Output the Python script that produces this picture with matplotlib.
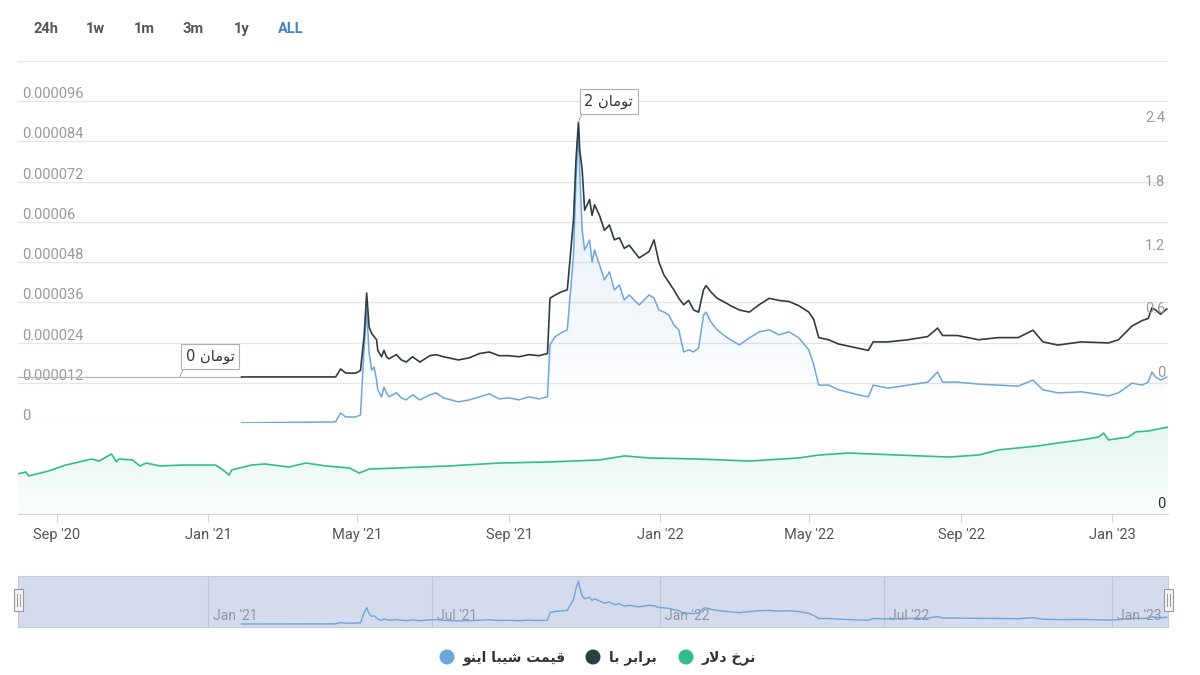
import numpy as np
import pandas as pd
import matplotlib
matplotlib.use('Agg')
import matplotlib.pyplot as plt
import matplotlib.dates as mdates
import matplotlib.transforms as mtransforms
from matplotlib.patches import Rectangle, Circle

# ---- data ----
# shiba inu price (USD, in millionths) and its toman equivalent, same dates
shib_dates = ['2021-01-28', '2021-04-12', '2021-04-14', '2021-04-18', '2021-04-22', '2021-04-30',
              '2021-05-04', '2021-05-07', '2021-05-09', '2021-05-11', '2021-05-13', '2021-05-15',
              '2021-05-17', '2021-05-18', '2021-05-21', '2021-05-23', '2021-05-25', '2021-05-27',
              '2021-06-02', '2021-06-06', '2021-06-10', '2021-06-15', '2021-06-21', '2021-06-29',
              '2021-07-04', '2021-07-10', '2021-07-22', '2021-07-31', '2021-08-08', '2021-08-16',
              '2021-08-24', '2021-09-01', '2021-09-09', '2021-09-17', '2021-09-25', '2021-10-02',
              '2021-10-04', '2021-10-08', '2021-10-13', '2021-10-18', '2021-10-20', '2021-10-23',
              '2021-10-25', '2021-10-27', '2021-10-28', '2021-10-30', '2021-11-01', '2021-11-05',
              '2021-11-07', '2021-11-09', '2021-11-13', '2021-11-17', '2021-11-21', '2021-11-25',
              '2021-11-29', '2021-12-03', '2021-12-07', '2021-12-15', '2021-12-23', '2021-12-27',
              '2021-12-31', '2022-01-04', '2022-01-08', '2022-01-12', '2022-01-16', '2022-01-20',
              '2022-01-24', '2022-01-28', '2022-02-01', '2022-02-05', '2022-02-07', '2022-02-11',
              '2022-02-16', '2022-02-21', '2022-02-27', '2022-03-06', '2022-03-14', '2022-03-22',
              '2022-03-30', '2022-04-07', '2022-04-15', '2022-04-23', '2022-05-01', '2022-05-05',
              '2022-05-09', '2022-05-17', '2022-05-25', '2022-06-10', '2022-06-18', '2022-06-22',
              '2022-07-04', '2022-07-20', '2022-08-05', '2022-08-13', '2022-08-17', '2022-08-29',
              '2022-09-15', '2022-10-01', '2022-10-17', '2022-10-29', '2022-11-06', '2022-11-18',
              '2022-12-07', '2022-12-29', '2023-01-06', '2023-01-17', '2023-01-25', '2023-01-30',
              '2023-02-02', '2023-02-05', '2023-02-09', '2023-02-14']
shib_usd_e6 = [0.05, 0.3, 0.4, 3.0, 1.8, 1.8,
               2.4, 22.7, 33.7, 20.9, 15.8, 16.7,
               12.8, 9.9, 7.8, 10.7, 9.0, 7.8,
               9.0, 7.5, 6.9, 8.4, 6.9, 8.4,
               9.0, 7.5, 6.3, 6.9, 7.8, 8.7,
               7.2, 7.5, 6.9, 7.8, 7.2, 7.8,
               23.3, 25.7, 26.9, 27.8, 36.7, 50.1,
               72.5, 88.0, 75.5, 57.6, 51.6, 54.6,
               48.1, 51.6, 47.2, 42.7, 45.1, 39.7,
               41.2, 36.7, 38.2, 35.2, 38.2, 37.3,
               33.7, 33.1, 32.2, 29.3, 27.8, 21.2,
               21.8, 21.2, 22.4, 32.2, 33.1, 30.1,
               27.8, 26.3, 24.8, 23.3, 25.4, 27.2,
               27.8, 26.3, 27.2, 25.4, 21.8, 17.3,
               11.3, 11.3, 9.9, 8.4, 7.8, 11.3,
               10.4, 11.3, 12.2, 15.2, 12.2, 12.2,
               11.6, 11.3, 11.0, 12.8, 9.9, 9.0,
               9.3, 8.1, 9.0, 11.9, 11.3, 12.2,
               15.2, 13.7, 12.8, 13.7]
shib_toman = [0.01, 0.01, 0.01, 0.085, 0.047, 0.045,
              0.07, 0.40, 0.80, 0.48, 0.42, 0.39,
              0.36, 0.26, 0.20, 0.26, 0.20, 0.18,
              0.22, 0.17, 0.15, 0.20, 0.15, 0.21,
              0.22, 0.20, 0.17, 0.19, 0.23, 0.245,
              0.21, 0.21, 0.20, 0.22, 0.21, 0.23,
              0.75, 0.78, 0.81, 0.83, 1.09, 1.49,
              2.05, 2.41, 2.15, 1.96, 1.58, 1.68,
              1.53, 1.63, 1.53, 1.39, 1.44, 1.30,
              1.32, 1.22, 1.25, 1.13, 1.19, 1.30,
              1.09, 0.97, 0.90, 0.83, 0.75, 0.69,
              0.73, 0.64, 0.62, 0.83, 0.87, 0.81,
              0.75, 0.72, 0.68, 0.64, 0.62, 0.69,
              0.75, 0.73, 0.72, 0.68, 0.62, 0.55,
              0.38, 0.36, 0.32, 0.28, 0.26, 0.34,
              0.34, 0.36, 0.39, 0.47, 0.40, 0.40,
              0.36, 0.38, 0.38, 0.45, 0.34, 0.31,
              0.34, 0.33, 0.36, 0.49, 0.54, 0.56,
              0.66, 0.64, 0.60, 0.65]

# dollar rate (toman)
usd_dates = ['2020-07-31', '2020-08-07', '2020-08-09', '2020-08-25', '2020-09-08', '2020-09-29',
             '2020-10-05', '2020-10-15', '2020-10-19', '2020-10-21', '2020-11-01', '2020-11-07',
             '2020-11-12', '2020-11-23', '2020-12-11', '2020-12-25', '2021-01-07', '2021-01-12',
             '2021-01-18', '2021-01-20', '2021-02-05', '2021-02-16', '2021-03-07', '2021-03-21',
             '2021-04-06', '2021-04-25', '2021-05-03', '2021-05-11', '2021-06-04', '2021-07-14',
             '2021-08-24', '2021-10-03', '2021-11-13', '2021-12-03', '2021-12-23', '2022-02-01',
             '2022-03-14', '2022-04-23', '2022-05-09', '2022-06-02', '2022-07-12', '2022-08-22',
             '2022-09-15', '2022-10-01', '2022-11-02', '2022-11-18', '2022-12-07', '2022-12-21',
             '2022-12-25', '2022-12-29', '2023-01-14', '2023-01-20', '2023-01-30', '2023-02-15']
usd_rate = [22000, 23100, 20900, 23600, 26900, 30200,
            29100, 33000, 28600, 30200, 29700, 26400,
            28000, 26400, 26900, 26900, 26900, 24700,
            21400, 24200, 26900, 27500, 25800, 28000,
            26400, 25300, 22500, 24700, 25300, 26400,
            28000, 28600, 29700, 31900, 30800, 30200,
            29100, 30800, 32400, 33500, 32400, 31300,
            32400, 35200, 37400, 39000, 40700, 42300,
            44500, 40700, 42300, 45100, 45600, 47800]

main_ticks = ['2020-09-01', '2021-01-01', '2021-05-01', '2021-09-01',
              '2022-01-01', '2022-05-01', '2022-09-01', '2023-01-01']
nav_ticks = ['2021-01-01', '2021-07-01', '2022-01-01', '2022-07-01', '2023-01-01']
price_levels = [0, 0.000012, 0.000024, 0.000036, 0.000048, 0.00006, 0.000072, 0.000084, 0.000096, 0.000108]
toman_levels = [0, 0.6, 1.2, 1.8, 2.4]
flag_dates = ['2020-12-09', '2021-10-27']
flag_values = [0.01, 2.41]
flag_labels = ['تومان 0', 'تومان 2']
legend_labels = ['قیمت شیبا اینو', 'برابر با', 'نرخ دلار']
buttons = ['24h', '1w', '1m', '3m', '1y', 'ALL']

# ---- tiny arabic-script shaper (matplotlib has no bidi / joining) ----
FORMS = {  # isolated, final, initial, medial
    'ا': (0xFE8D, 0xFE8E, None, None), 'ب': (0xFE8F, 0xFE90, 0xFE91, 0xFE92),
    'ت': (0xFE95, 0xFE96, 0xFE97, 0xFE98), 'خ': (0xFEA5, 0xFEA6, 0xFEA7, 0xFEA8),
    'د': (0xFEA9, 0xFEAA, None, None), 'ر': (0xFEAD, 0xFEAE, None, None),
    'ش': (0xFEB5, 0xFEB6, 0xFEB7, 0xFEB8), 'ق': (0xFED5, 0xFED6, 0xFED7, 0xFED8),
    'ل': (0xFEDD, 0xFEDE, 0xFEDF, 0xFEE0), 'م': (0xFEE1, 0xFEE2, 0xFEE3, 0xFEE4),
    'ن': (0xFEE5, 0xFEE6, 0xFEE7, 0xFEE8), 'و': (0xFEED, 0xFEEE, None, None),
    'ی': (0xFEEF, 0xFEF0, 0xFEF3, 0xFEF4),
}


def fa(s):
    def dual(c):
        return c in FORMS and FORMS[c][2] is not None
    out, i = [], 0
    while i < len(s):
        c = s[i]
        if c not in FORMS:
            out.append(c); i += 1; continue
        jp = i > 0 and dual(s[i - 1])
        if c == 'ل' and i + 1 < len(s) and s[i + 1] == 'ا':
            out.append(chr(0xFEFC if jp else 0xFEFB)); i += 2; continue
        jn = dual(c) and i + 1 < len(s) and s[i + 1] in FORMS
        iso, fin, ini, med = FORMS[c]
        code = med if (jp and jn) else ini if jn else fin if jp else iso
        out.append(chr(code)); i += 1
    return ''.join(out)[::-1]


BLUE = '#6ea6dc'
DARK = '#2e3d42'
GREEN = '#2fbf86'
GRID = '#e6e6e6'
W, H = 1200, 675


def fig_box(x0, y0, x1, y1):
    return [x0 / W, 1 - y1 / H, (x1 - x0) / W, (y1 - y0) / H]


def gradient_fill(ax, x, y, rgb, a_top, a_bot):
    poly = ax.fill_between(x, y, 0, facecolor='none', edgecolor='none')
    grad = np.zeros((100, 1, 4))
    grad[..., :3] = matplotlib.colors.to_rgb(rgb)
    grad[:, 0, 3] = np.linspace(a_top, a_bot, 100)
    xn = mdates.date2num(x)
    im = ax.imshow(grad, aspect='auto', extent=[xn.min(), xn.max(), 0, max(y)],
                   origin='upper', zorder=1, interpolation='bilinear')
    im.set_clip_path(poly.get_paths()[0], transform=ax.transData)


sd = pd.to_datetime(shib_dates)
ud = pd.to_datetime(usd_dates)
price = np.array(shib_usd_e6) * 1e-6
xmin, xmax = pd.Timestamp('2020-07-31 12:00'), pd.Timestamp('2023-02-15')

fig = plt.figure(figsize=(12, 6.75), dpi=100)
fig.patch.set_facecolor('white')

# ---- main pane ----
ax = fig.add_axes(fig_box(18, 61, 1168, 423))
ax.set_facecolor('none')
for s in ax.spines.values():
    s.set_visible(False)
ax.set_xticks([]); ax.set_yticks([])
for v in price_levels:
    ax.axhline(v, color=GRID, lw=1, zorder=0)
lab_tr = mtransforms.blended_transform_factory(ax.transAxes, ax.transData)
for v in price_levels[:-1]:
    ax.annotate(f'{v:.6f}'.rstrip('0').rstrip('.'), xy=(0.0035, v), xycoords=lab_tr,
                xytext=(0, 3), textcoords='offset pixels', ha='left', va='baseline',
                fontsize=10.5, color='#9a9a9a', family='Roboto')
gradient_fill(ax, sd, price, BLUE, 0.22, 0.0)
ax.plot(sd, price, color=BLUE, lw=1.1, zorder=3)
ax.set_xlim(xmin, xmax)
ax.set_ylim(0, 0.000108)

ax2 = ax.twinx()
ax2.set_ylim(-0.4235, 2.9835)
ax2.axis('off')
ax2.plot([xmin, sd[0]], [shib_toman[0], shib_toman[0]], color='#b5b5b5', lw=0.9)
ax2.plot(sd, shib_toman, color=DARK, lw=1.2, zorder=4)
ax2.set_xlim(xmin, xmax)
rt = mtransforms.blended_transform_factory(ax2.transAxes, ax2.transData)
for v in toman_levels:
    ax2.annotate(f'{v:g}', xy=(0.9975, v), xycoords=rt, xytext=(0, 1), textcoords='offset pixels',
                 ha='right', va='baseline', fontsize=10.5, color='#9a9a9a', family='Roboto', zorder=6)
for d, v, t in zip(flag_dates, flag_values, flag_labels):
    ax2.annotate(fa(t), xy=(pd.Timestamp(d), v), xytext=(6, 13), textcoords='offset pixels',
                 ha='left', va='bottom', fontsize=10.5, color='#333333', family='DejaVu Sans',
                 bbox=dict(boxstyle='square,pad=0.32', fc='white', ec='#b0b0b0', lw=0.8),
                 arrowprops=dict(arrowstyle='-', color='#b0b0b0', lw=0.8, relpos=(0, 0),
                                 shrinkA=0, shrinkB=0), zorder=7)

# ---- dollar pane ----
axg = fig.add_axes(fig_box(18, 423, 1168, 514))
axg.set_facecolor('none')
gradient_fill(axg, ud, usd_rate, GREEN, 0.13, 0.02)
axg.plot(ud, usd_rate, color=GREEN, lw=1.2, zorder=3)
axg.set_xlim(xmin, xmax)
axg.set_ylim(0, 50000)
for k, s in axg.spines.items():
    s.set_visible(k == 'bottom')
axg.spines['bottom'].set_color('#ccd6eb')
axg.set_yticks([])
mt = pd.to_datetime(main_ticks)
axg.set_xticks(mt)
axg.set_xticklabels([d.strftime("%b '%y") for d in mt], family='Roboto')
axg.tick_params(axis='x', length=6, color='#ccd6eb', labelsize=10.5, labelcolor='#555555', pad=4)
axg.annotate('0', xy=(0.9975, 0), xycoords='axes fraction', xytext=(0, 3), textcoords='offset pixels',
             ha='right', va='bottom', fontsize=10.5, color='#333333', family='Roboto')

# ---- navigator ----
axn = fig.add_axes(fig_box(18, 576, 1168, 627))
axn.set_facecolor('#d3dbec')
for s in axn.spines.values():
    s.set_color('#c4cbdb'); s.set_linewidth(0.8)
axn.set_xticks([]); axn.set_yticks([])
nt = pd.to_datetime(nav_ticks)
for d in nt:
    axn.axvline(d, color='#bcc4d6', lw=0.8, zorder=0)
    axn.annotate(d.strftime("%b '%y"), xy=(d, 0), xycoords=('data', 'axes fraction'),
                 xytext=(5, 4), textcoords='offset pixels', ha='left', va='bottom',
                 fontsize=10, color='#8f96a3', family='Roboto')
axn.plot(sd, price, color=BLUE, lw=1)
axn.set_xlim(xmin, xmax)
axn.set_ylim(-6.1e-6, 98.2e-6)

# ---- overlay: range buttons, navigator handles, legend ----
ov = fig.add_axes([0, 0, 1, 1])
ov.set_xlim(0, W); ov.set_ylim(H, 0)
ov.axis('off')
for i, b in enumerate(buttons):
    ov.text(46 + 49 * i, 29, b, ha='center', va='center', fontsize=10.5, fontweight='bold',
            family='Roboto', color='#3d85c6' if b == 'ALL' else '#555555')
for hx in (18, 1168):
    ov.add_patch(Rectangle((hx - 4.5, 589), 9, 22, fc='#f4f4f4', ec='#999999', lw=0.8))
    for dx in (-1.5, 1.5):
        ov.plot([hx + dx, hx + dx], [594, 606], color='#999999', lw=0.7)

leg_x = [447, 593, 686]
leg_colors = [BLUE, DARK, GREEN]
for x, c, t in zip(leg_x, leg_colors, legend_labels):
    ov.add_patch(Circle((x, 657), 7.5, fc=c, ec='none'))
    ov.text(x + 16, 658, fa(t), ha='left', va='center', fontsize=10, fontweight='bold',
            family='DejaVu Sans', color='#333333')

fig.savefig('out.png', dpi=100, facecolor='white')
